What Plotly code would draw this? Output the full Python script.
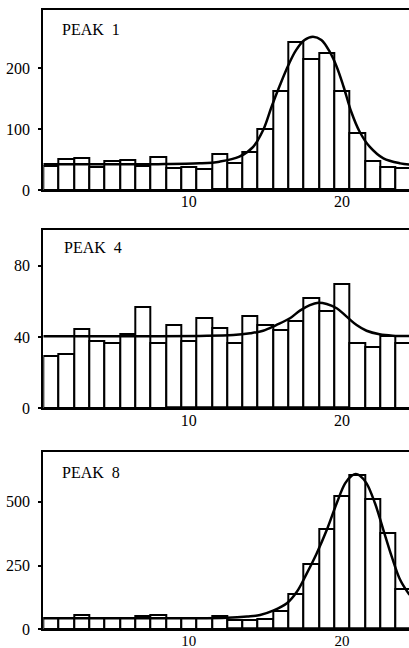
import plotly.graph_objects as go

# ---- data ----
bins = list(range(1, 25))

peak1_counts = [40, 51, 53, 38, 48, 50, 40, 54, 36, 38, 34, 60, 45, 63, 101, 162, 244, 216, 226, 163, 93, 48, 38, 37]
peak4_counts = [29.5, 30.5, 44.5, 37.8, 36.4, 41.5, 56.6, 36.4, 46.7, 37.8, 50.6, 45.3, 36.4, 51.8, 47.0, 43.9, 49.2, 61.6, 54.3, 69.5, 36.6, 34.3, 40.4, 36.6]
peak8_counts = [43, 43, 56, 43, 43, 43, 53, 55, 43, 43, 43, 51, 38, 38, 40, 71, 137, 255, 392, 524, 605, 511, 379, 158]

fit1_x = [0.5, 4, 8, 10.7, 12.0, 13.3, 14.2, 14.85, 15.4, 15.95, 16.5, 17.0, 17.55, 18.1, 18.65, 19.2, 19.65, 20.1, 20.6, 21.15, 21.8, 22.7, 23.8, 24.4]
fit1_y = [42.5, 42.5, 42.5, 43.8, 46.6, 54.8, 71, 98.6, 137, 172.6, 205.5, 230, 246.6, 252, 246.6, 227, 202.7, 169.8, 128.7, 95.8, 71.2, 52, 43.8, 42]

fit4_x = [0.5, 4, 8, 10.7, 12.9, 14.0, 14.85, 15.7, 16.6, 17.25, 17.9, 18.45, 19.0, 19.65, 20.3, 20.95, 21.6, 22.45, 23.3, 24.4]
fit4_y = [40.4, 40.4, 40.4, 40.6, 41.1, 42.1, 43.5, 46.7, 50.5, 54.8, 57.9, 59.2, 58.5, 56.1, 51.4, 46.7, 43.5, 41.5, 40.7, 40.5]

fit8_x = [0.5, 5, 10, 12.5, 13.8, 14.65, 15.5, 16.4, 17.05, 17.7, 18.35, 19.0, 19.65, 20.2, 20.65, 20.9, 21.15, 21.6, 22.15, 22.7, 23.25, 23.8, 24.4]
fit8_y = [43, 43, 43, 45, 50, 56, 73, 102, 147, 219, 298, 389, 494, 572, 603, 609, 603, 572, 494, 389, 284, 193, 135]

fit_range1 = [11.5, 23.5]
fit_range4 = [8.5, 20.5]
fit_range8 = [12.5, 24.5]

labels = ["PEAK\u00a0\u00a01", "PEAK\u00a0\u00a04", "PEAK\u00a0\u00a08"]
y_ticks = [[0, 100, 200], [0, 40, 80], [0, 250, 500]]
y_ranges = [[0, 296], [0, 100], [0, 695]]
x_ticks = [10, 20]

panels = [
    (peak1_counts, fit1_x, fit1_y, fit_range1),
    (peak4_counts, fit4_x, fit4_y, fit_range4),
    (peak8_counts, fit8_x, fit8_y, fit_range8),
]

W, H = 409, 648
left_px = 43.3
# (top_px, bottom_px) of each panel
panel_px = [(10, 190), (230, 408.3), (452, 629.3)]
label_pos = [(60, 30), (62, 248), (60, 472)]
x_standoff = [-4, -4, -3]
x_fontsize = [16, 16, 15]

FONT = "Liberation Serif"

fig = go.Figure()
for i, (counts, fx, fy, fr) in enumerate(panels):
    n = "" if i == 0 else str(i + 1)
    xa, ya = "x" + n, "y" + n
    fig.add_trace(go.Bar(
        x=bins, y=counts, width=1, xaxis=xa, yaxis=ya,
        marker=dict(color="white", line=dict(color="black", width=2)),
        showlegend=False, hoverinfo="skip"))
    fig.add_trace(go.Scatter(
        x=fr, y=[0, 0], mode="lines", xaxis=xa, yaxis=ya,
        line=dict(color="black", width=4), showlegend=False, hoverinfo="skip"))
    fig.add_trace(go.Scatter(
        x=fx, y=fy, mode="lines", line_shape="spline", xaxis=xa, yaxis=ya,
        line=dict(color="black", width=2.5), showlegend=False, hoverinfo="skip"))

    top, bot = panel_px[i]
    fig.layout["xaxis" + n] = dict(
        domain=[left_px / W, 1.0], anchor=ya, range=[0.5, 24.37],
        tickvals=x_ticks, ticks="", showgrid=False, zeroline=False,
        showline=True, linecolor="black", linewidth=2, mirror=True,
        tickfont=dict(family=FONT, size=x_fontsize[i], color="black"),
        ticklabelstandoff=x_standoff[i], automargin=False)
    fig.layout["yaxis" + n] = dict(
        domain=[1 - bot / H, 1 - top / H], anchor=xa, range=y_ranges[i],
        tickvals=y_ticks[i], ticks="outside", ticklen=3, tickwidth=1.5,
        tickcolor="black", showgrid=False, zeroline=False,
        showline=True, linecolor="black", linewidth=2,
        tickfont=dict(family=FONT, size=16, color="black"),
        ticklabelstandoff=5, automargin=False)
    lx, ly = label_pos[i]
    fig.add_annotation(
        text=labels[i], xref="paper", yref="paper",
        x=lx / W, y=1 - ly / H, xanchor="left", yanchor="middle",
        showarrow=False, font=dict(family=FONT, size=16, color="black"))

fig.update_layout(
    width=W, height=H, margin=dict(l=0, r=0, t=0, b=0),
    paper_bgcolor="white", plot_bgcolor="white", bargap=0,
    barmode="overlay")

fig.write_html("out.html",
               config={"displayModeBar": False},
               post_script="document.body.style.margin='0';document.body.style.overflow='hidden';")
